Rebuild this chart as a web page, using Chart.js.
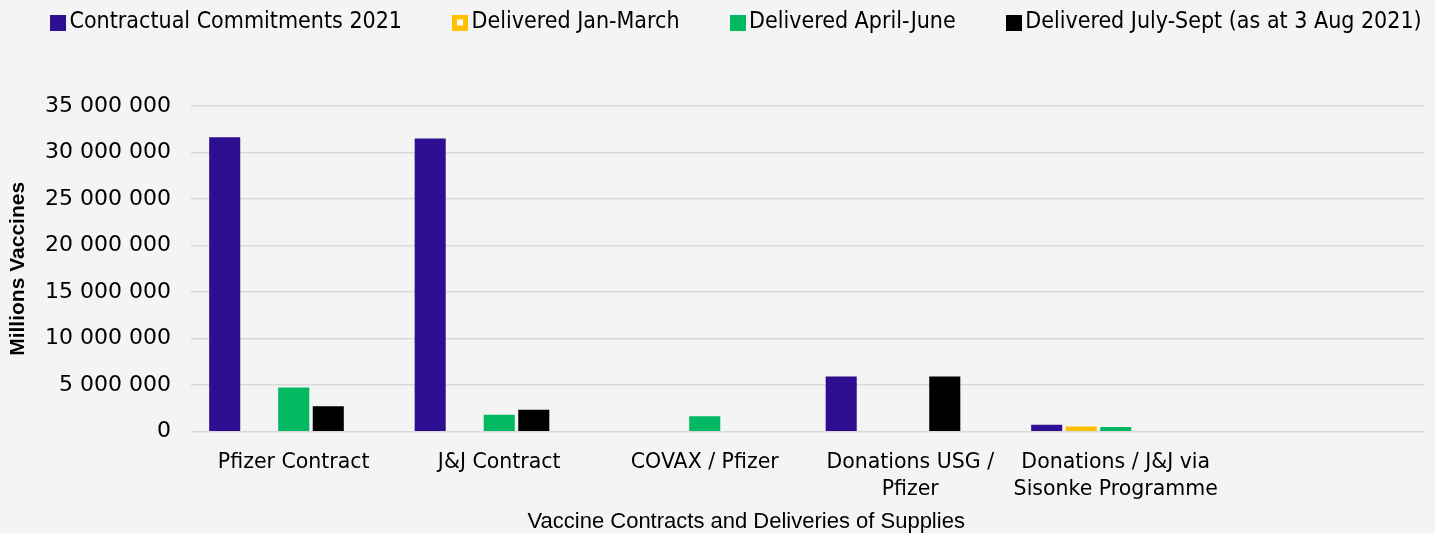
<!DOCTYPE html>
<html>
<head>
<meta charset="utf-8">
<script src="https://cdn.jsdelivr.net/npm/chart.js@4/dist/chart.umd.min.js"></script>
<style>
    html, body { margin: 0; padding: 0; background: #f4f4f4; }
    #wrap { width: 1435px; height: 533px; position: relative; }
</style>
</head>
<body>
<div id="wrap"><canvas id="chart"></canvas></div>
<script>
// Data
const categories = [
    'Pfizer Contract',
    'J&J Contract',
    'COVAX / Pfizer',
    ['Donations USG /', 'Pfizer'],
    ['Donations / J&J via', 'Sisonke Programme'],
    ''
];
const seriesNames = [
    'Contractual Commitments 2021',
    'Delivered Jan-March',
    'Delivered April-June',
    'Delivered July-Sept (as at 3 Aug 2021)',
    ''
];
const commitments = [31650000, 31500000, null, 5920000, 750000, null];
const deliveredJanMarch = [null, null, null, null, 570000, null];
const deliveredAprilJune = [4740000, 1830000, 1650000, null, 500000, null];
const deliveredJulySept = [2730000, 2370000, null, 5920000, null, null];
const emptySlot = [null, null, null, null, null, null]; // unused fifth series in the source
const yTicks = [0, 5000000, 10000000, 15000000, 20000000, 25000000, 30000000, 35000000];
const yTitle = 'Millions Vaccines';
const xTitle = 'Vaccine Contracts and Deliveries of Supplies';

const colors = ['#2e0f91', '#ffc000', '#00b962', '#000000', '#ffffff'];

// Legend swatches (the yellow one has a white centre in the original)
function makeSwatch(color, hollow) {
    const c = document.createElement('canvas');
    c.width = 16; c.height = 16;
    const g = c.getContext('2d');
    g.fillStyle = color;
    g.fillRect(0, 0, 16, 16);
    if (hollow) {
        g.fillStyle = '#ffffff';
        g.fillRect(5, 5, 6, 6);
    }
    return c;
}
const swatches = colors.map((c, i) => makeSwatch(c, i === 1));

function spaced(v) {
    return String(v).replace(/\B(?=(\d{3})+(?!\d))/g, ' ');
}

// Keep the legend on one row and leave room under it
const legendFit = {
    id: 'legendFit',
    beforeInit(chart) {
        const legend = chart.legend;
        const fit = legend.fit;
        const draw = legend.draw;
        legend.fit = function () {
            const mw = this.maxWidth;
            this.maxWidth = mw + 200;
            fit.call(this);
            this.maxWidth = mw;
            this.width = Math.min(this.width, mw);
            this.height = 153;
        };
        legend.draw = function () {
            const r = this.right;
            this.right = r + 200;
            draw.call(this);
            this.right = r;
        };
    }
};

// Axis title drawn slightly left of the plot centre, as in the source
const xTitlePlugin = {
    id: 'xTitle',
    afterDraw(chart) {
        const ctx = chart.ctx;
        ctx.save();
        ctx.font = '22px "Liberation Sans", Arial, sans-serif';
        ctx.fillStyle = '#000000';
        ctx.textAlign = 'center';
        ctx.textBaseline = 'middle';
        ctx.fillText(xTitle, chart.width * 0.52, chart.height - 11);
        ctx.restore();
    }
};

const datasets = [commitments, deliveredJanMarch, deliveredAprilJune, deliveredJulySept, emptySlot]
    .map((data, i) => ({
        label: seriesNames[i],
        data: data,
        backgroundColor: colors[i],
        borderWidth: 0,
        categoryPercentage: 0.84,
        barPercentage: 0.9
    }));

const ctx = document.getElementById('chart').getContext('2d');
new Chart(ctx, {
    type: 'bar',
    data: { labels: categories, datasets: datasets },
    options: {
        responsive: true,
        maintainAspectRatio: false,
        animation: false,
        layout: { padding: { left: 0, right: 11, top: -47, bottom: 20 } },
        plugins: {
            tooltip: { enabled: false },
            legend: {
                position: 'top',
                align: 'start',
                labels: {
                    usePointStyle: true,
                    pointStyleWidth: 0.01,
                    boxWidth: 16,
                    boxHeight: 16,
                    padding: 58,
                    color: '#000000',
                    font: { family: '"DejaVu Sans Condensed", "DejaVu Sans", sans-serif', size: 23 },
                    generateLabels(chart) {
                        const items = Chart.defaults.plugins.legend.labels.generateLabels(chart);
                        items.forEach(item => { item.pointStyle = swatches[item.datasetIndex]; });
                        return items.filter(item => item.text !== '');
                    }
                }
            }
        },
        scales: {
            x: {
                grid: { display: false },
                border: { display: false },
                ticks: {
                    color: '#000000',
                    padding: 10,
                    maxRotation: 0,
                    autoSkip: false,
                    font: { family: '"DejaVu Sans", sans-serif', size: 20.5, lineHeight: 1.3 }
                }
            },
            y: {
                min: 0,
                max: 35000000,
                afterBuildTicks(scale) {
                    scale.ticks = yTicks.map(v => ({ value: v }));
                },
                afterFit(scale) { scale.width = 191; },
                grid: { color: '#d9d9d9', lineWidth: 1.5, drawTicks: false },
                border: { display: false },
                ticks: {
                    color: '#000000',
                    padding: 20,
                    font: { family: '"DejaVu Sans", sans-serif', size: 22 },
                    callback: v => spaced(v)
                },
                title: {
                    display: true,
                    text: yTitle,
                    color: '#000000',
                    padding: { top: 6, bottom: 0 },
                    font: { family: '"Liberation Sans", Arial, sans-serif', size: 21, weight: 'bold' }
                }
            }
        }
    },
    plugins: [legendFit, xTitlePlugin]
});
</script>
</body>
</html>
